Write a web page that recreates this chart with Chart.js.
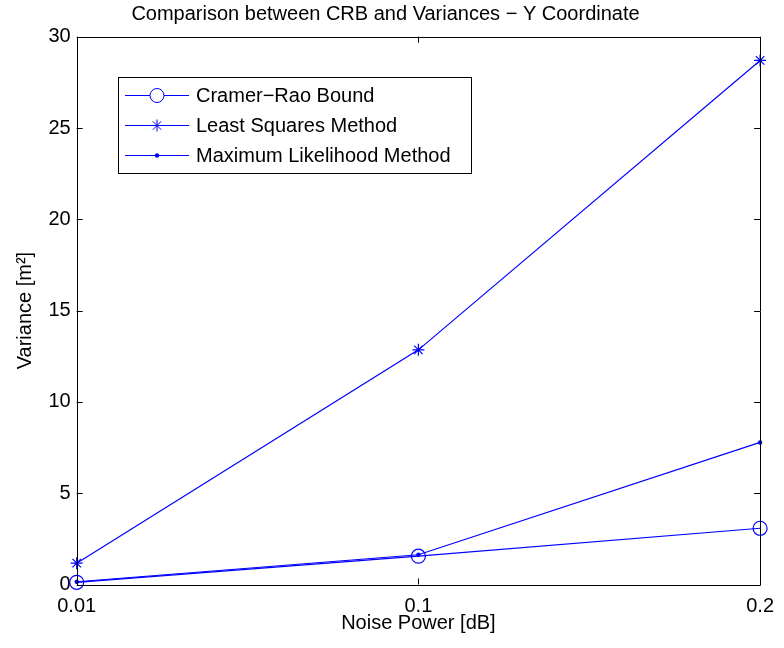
<!DOCTYPE html>
<html>
<head>
<meta charset="utf-8">
<script src="https://cdn.jsdelivr.net/npm/chart.js@4.4.0/dist/chart.umd.min.js"></script>
<style>
  html, body { margin: 0; padding: 0; background: #fff; }
  #wrap { width: 784px; height: 648px; }
</style>
</head>
<body>
<div id="wrap"><canvas id="crbChart" width="784" height="648"></canvas></div>
<script>
// noise power levels and variance per method
const noiseLabels = ['0.01', '0.1', '0.2'];
const crbValues = [0.12, 1.55, 3.08];
const lsValues = [1.17, 12.85, 28.7];
const mlValues = [0.15, 1.63, 7.78];
const yTicks = [0, 5, 10, 15, 20, 25, 30];

const FONT = "'Liberation Sans', Arial, Helvetica, sans-serif";
const BLUE = '#0000ff';

// box round the axes, inward ticks and the legend box (matlab style)
const matlabAxes = {
  id: 'matlabAxes',
  afterDatasetsDraw(chart) {
    const { ctx, chartArea: a, scales: { x, y } } = chart;
    const tl = 6;
    ctx.save();
    ctx.strokeStyle = '#000';
    ctx.lineWidth = 1;
    ctx.beginPath();
    ctx.rect(Math.round(a.left) + 0.5, Math.round(a.top) + 0.5,
      Math.round(a.right - a.left), Math.round(a.bottom - a.top));
    yTicks.forEach(v => {
      const py = Math.round(y.getPixelForValue(v)) + 0.5;
      ctx.moveTo(a.left, py); ctx.lineTo(a.left + tl, py);
      ctx.moveTo(a.right, py); ctx.lineTo(a.right - tl, py);
    });
    noiseLabels.forEach((_, i) => {
      const px = Math.round(x.getPixelForTick(i)) + 0.5;
      ctx.moveTo(px, a.bottom); ctx.lineTo(px, a.bottom - tl);
      ctx.moveTo(px, a.top); ctx.lineTo(px, a.top + tl);
    });
    ctx.stroke();

    // legend
    const lx = 118, ly = 77, lw = 353, lh = 96;
    ctx.fillStyle = '#fff';
    ctx.fillRect(lx, ly, lw, lh);
    ctx.strokeRect(lx + 0.5, ly + 0.5, lw, lh);
    const entries = [
      { text: 'Cramer\u2212Rao Bound', style: 'circle', r: 7, fill: false },
      { text: 'Least Squares Method', style: 'star', r: 6, fill: false },
      { text: 'Maximum Likelihood Method', style: 'circle', r: 2.2, fill: true }
    ];
    ctx.font = '20px ' + FONT;
    ctx.textBaseline = 'middle';
    ctx.textAlign = 'left';
    entries.forEach((e, i) => {
      const ry = ly + 18 + i * 30 + 0.5;
      ctx.strokeStyle = BLUE;
      ctx.lineWidth = 1;
      ctx.beginPath();
      ctx.moveTo(125, ry); ctx.lineTo(189, ry);
      ctx.stroke();
      if (e.fill) {
        ctx.fillStyle = BLUE;
        ctx.beginPath();
        ctx.arc(157, ry, e.r, 0, Math.PI * 2);
        ctx.fill();
      } else {
        Chart.helpers.drawPoint(ctx, {
          pointStyle: e.style, radius: e.r, borderWidth: 1.2, rotation: 0
        }, 157, ry);
      }
      ctx.fillStyle = '#000';
      ctx.fillText(e.text, 196, ry + 1);
    });
    ctx.restore();
  }
};

const ctx = document.getElementById('crbChart').getContext('2d');

new Chart(ctx, {
  type: 'line',
  data: {
    labels: noiseLabels,
    datasets: [
      {
        label: 'Cramer\u2212Rao Bound',
        data: crbValues,
        borderColor: BLUE,
        backgroundColor: 'rgba(0,0,0,0)',
        borderWidth: 1.2,
        pointStyle: 'circle',
        pointRadius: 7,
        pointBorderWidth: 1.2,
        pointBorderColor: BLUE,
        pointBackgroundColor: 'rgba(0,0,0,0)',
        tension: 0,
        clip: false
      },
      {
        label: 'Least Squares Method',
        data: lsValues,
        borderColor: BLUE,
        backgroundColor: BLUE,
        borderWidth: 1.2,
        pointStyle: 'star',
        pointRadius: 6,
        pointBorderWidth: 1.2,
        pointBorderColor: BLUE,
        tension: 0,
        clip: false
      },
      {
        label: 'Maximum Likelihood Method',
        data: mlValues,
        borderColor: BLUE,
        backgroundColor: BLUE,
        borderWidth: 1.2,
        pointStyle: 'circle',
        pointRadius: 2.2,
        pointBorderWidth: 0,
        pointBackgroundColor: BLUE,
        tension: 0,
        clip: false
      }
    ]
  },
  options: {
    responsive: false,
    animation: false,
    layout: { padding: { left: 0, right: 13, top: 0, bottom: 0 } },
    plugins: {
      legend: { display: false },
      tooltip: { enabled: false },
      title: {
        display: true,
        text: 'Comparison between CRB and Variances \u2212 Y Coordinate',
        color: '#000',
        font: { family: FONT, size: 20, weight: 'normal' },
        padding: { top: 2, bottom: 10.7 }
      }
    },
    scales: {
      x: {
        type: 'category',
        offset: false,
        grid: { display: false, drawTicks: false },
        border: { display: false },
        ticks: { color: '#000', font: { family: FONT, size: 20 }, padding: 10, maxRotation: 0 },
        title: {
          display: true,
          text: 'Noise Power [dB]',
          color: '#000',
          font: { family: FONT, size: 20 },
          padding: { top: 0, bottom: 13 }
        },
        afterFit(scale) { scale.height = 63.5; }
      },
      y: {
        min: 0,
        max: 30,
        grid: { display: false, drawTicks: false },
        border: { display: false },
        ticks: { stepSize: 5, color: '#000', font: { family: FONT, size: 20 }, padding: 6 },
        title: {
          display: true,
          text: 'Variance [m\u00b2]',
          color: '#000',
          font: { family: FONT, size: 20 },
          padding: { top: 13, bottom: 0 }
        },
        afterFit(scale) { scale.width = 76.7; }
      }
    }
  },
  plugins: [matlabAxes]
});
</script>
</body>
</html>
